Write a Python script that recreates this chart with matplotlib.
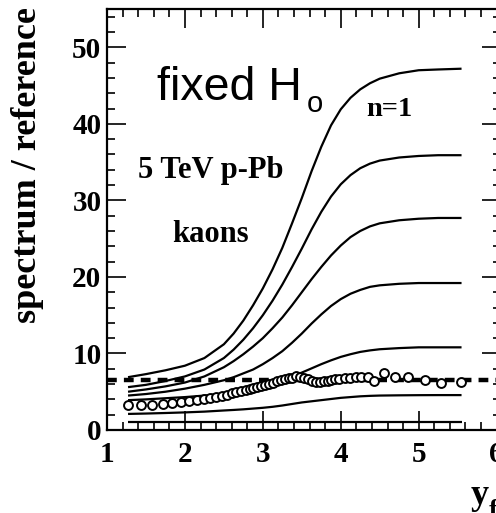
import matplotlib
matplotlib.use("Agg")
import matplotlib.pyplot as plt
from matplotlib.ticker import MultipleLocator

# ---- data ----
curve_x = [1.27, 1.5, 1.75, 2.0, 2.25, 2.5, 2.625, 2.75, 2.875, 3.0, 3.125, 3.25, 3.375,
           3.5, 3.625, 3.75, 3.875, 4.0, 4.125, 4.25, 4.375, 4.5, 4.75, 5.0, 5.25, 5.55]
curve_1 = [6.9, 7.3, 7.8, 8.4, 9.4, 11.2, 12.6, 14.3, 16.3, 18.5, 21.0, 23.8, 27.0,
           30.3, 33.8, 37.0, 39.8, 41.9, 43.4, 44.5, 45.3, 45.9, 46.6, 47.0, 47.1, 47.2]
curve_2 = [5.6, 5.9, 6.4, 7.0, 7.9, 9.4, 10.5, 11.8, 13.3, 15.0, 16.9, 19.0, 21.3,
           23.7, 26.2, 28.5, 30.5, 32.1, 33.3, 34.2, 34.8, 35.2, 35.6, 35.8, 35.9, 35.9]
curve_3 = [5.0, 5.3, 5.7, 6.2, 7.0, 8.2, 9.0, 9.9, 10.9, 12.0, 13.3, 14.7, 16.3,
           18.0, 19.7, 21.3, 22.8, 24.1, 25.2, 26.0, 26.6, 27.0, 27.4, 27.6, 27.7, 27.7]
curve_4 = [4.5, 4.7, 5.0, 5.4, 5.9, 6.5, 6.9, 7.4, 7.9, 8.6, 9.4, 10.3, 11.4,
           12.6, 13.9, 15.1, 16.2, 17.1, 17.8, 18.3, 18.7, 18.9, 19.1, 19.2, 19.2, 19.2]
curve_5 = [3.9, 4.0, 4.15, 4.3, 4.5, 4.8, 5.0, 5.25, 5.5, 5.8, 6.1, 6.5, 7.0,
           7.5, 8.05, 8.6, 9.1, 9.55, 9.9, 10.2, 10.4, 10.55, 10.7, 10.8, 10.8, 10.8]
curve_6 = [2.1, 2.15, 2.22, 2.3, 2.4, 2.55, 2.62, 2.7, 2.8, 2.9, 3.03, 3.2, 3.4,
           3.6, 3.75, 3.9, 4.05, 4.2, 4.3, 4.4, 4.46, 4.5, 4.53, 4.55, 4.56, 4.56]
curve_7 = [1.0] * len(curve_x)
curves = [curve_1, curve_2, curve_3, curve_4, curve_5, curve_6, curve_7]

data_x = [1.27, 1.43, 1.58, 1.72, 1.84, 1.95, 2.05, 2.15, 2.24, 2.32, 2.40, 2.47, 2.54, 2.60,
          2.66, 2.72, 2.78, 2.83, 2.88, 2.93, 2.98, 3.03, 3.08, 3.13, 3.18, 3.23, 3.28, 3.33,
          3.38, 3.43, 3.48, 3.53, 3.58, 3.63, 3.68, 3.73, 3.78, 3.83, 3.88, 3.93, 3.98, 4.05,
          4.12, 4.19, 4.26, 4.35, 4.43, 4.55, 4.70, 4.86, 5.08, 5.28, 5.54]
data_y = [3.25, 3.3, 3.3, 3.45, 3.55, 3.65, 3.8, 3.95, 4.05, 4.15, 4.3, 4.45, 4.6, 4.8,
          4.9, 5.05, 5.2, 5.3, 5.45, 5.6, 5.75, 5.9, 6.0, 6.2, 6.35, 6.5, 6.6, 6.75,
          6.85, 7.0, 6.95, 6.8, 6.6, 6.45, 6.3, 6.3, 6.35, 6.4, 6.5, 6.6, 6.7, 6.8,
          6.85, 6.9, 6.95, 6.95, 6.45, 7.4, 6.95, 6.95, 6.5, 6.1, 6.25]

ref_level = 6.5
x_limits = (1.0, 6.05)
y_limits = (0.0, 55.0)

# ---- figure ----
W, H = 496, 513
fig = plt.figure(figsize=(W / 100, H / 100), dpi=100)
ax_l, ax_r, ax_t, ax_b = 107, 500.5, 9, 430
ax = fig.add_axes([ax_l / W, 1 - ax_b / H, (ax_r - ax_l) / W, (ax_b - ax_t) / H])

for c in curves:
    ax.plot(curve_x, c, color="black", lw=1.6, solid_capstyle="butt",
            solid_joinstyle="round")

ax.axhline(ref_level, color="black", lw=3.2, dashes=(2.2, 1.6))

ax.plot(data_x, data_y, linestyle="none", marker="o", ms=6.4, mfc="white",
        mec="black", mew=1.4, zorder=5)

ax.set_xlim(*x_limits)
ax.set_ylim(*y_limits)

serif = "Liberation Serif"
ax.xaxis.set_major_locator(MultipleLocator(1))
ax.xaxis.set_minor_locator(MultipleLocator(0.2))
ax.yaxis.set_major_locator(MultipleLocator(10))
ax.yaxis.set_minor_locator(MultipleLocator(2))
ax.tick_params(which="both", direction="in", top=True, right=True, width=1.2)
ax.tick_params(which="major", length=13.5)
ax.tick_params(which="minor", length=6)
ax.tick_params(axis="x", which="major", pad=8)
ax.tick_params(axis="y", which="major", pad=4)
for lab in ax.get_xticklabels() + ax.get_yticklabels():
    lab.set_fontfamily(serif)
    lab.set_fontweight("bold")
    lab.set_fontsize(21)
for s in ax.spines.values():
    s.set_linewidth(1.6)

# y label
fig.text(28 / W, 1 - 323 / H, "spectrum / reference", rotation=90, ha="center",
         va="bottom", family=serif, weight="bold", fontsize=26)
# x label (cut at right edge)
fig.text(471 / W, 1 - 504 / H, "y", ha="left", va="baseline", family=serif,
         weight="bold", fontsize=26)
fig.text(489 / W, 1 - 517 / H, "f", ha="left", va="baseline", family=serif,
         weight="bold", fontsize=19)

# annotations
fig.text(157 / W, 1 - 100 / H, "fixed H", ha="left", va="baseline",
         family="Liberation Sans", fontsize=33.5)
fig.text(307 / W, 1 - 111.5 / H, "o", ha="left", va="baseline",
         family="Liberation Sans", fontsize=21)
fig.text(366 / W, 1 - 116.5 / H, "n=1", ha="left", va="baseline", family=serif,
         weight="bold", fontsize=20.5)
fig.text(138 / W, 1 - 178 / H, "5 TeV p-Pb", ha="left", va="baseline", family=serif,
         weight="bold", fontsize=22)
fig.text(172 / W, 1 - 242 / H, "kaons", ha="left", va="baseline", family=serif,
         weight="bold", fontsize=22)

fig.savefig("out.png", dpi=100)
